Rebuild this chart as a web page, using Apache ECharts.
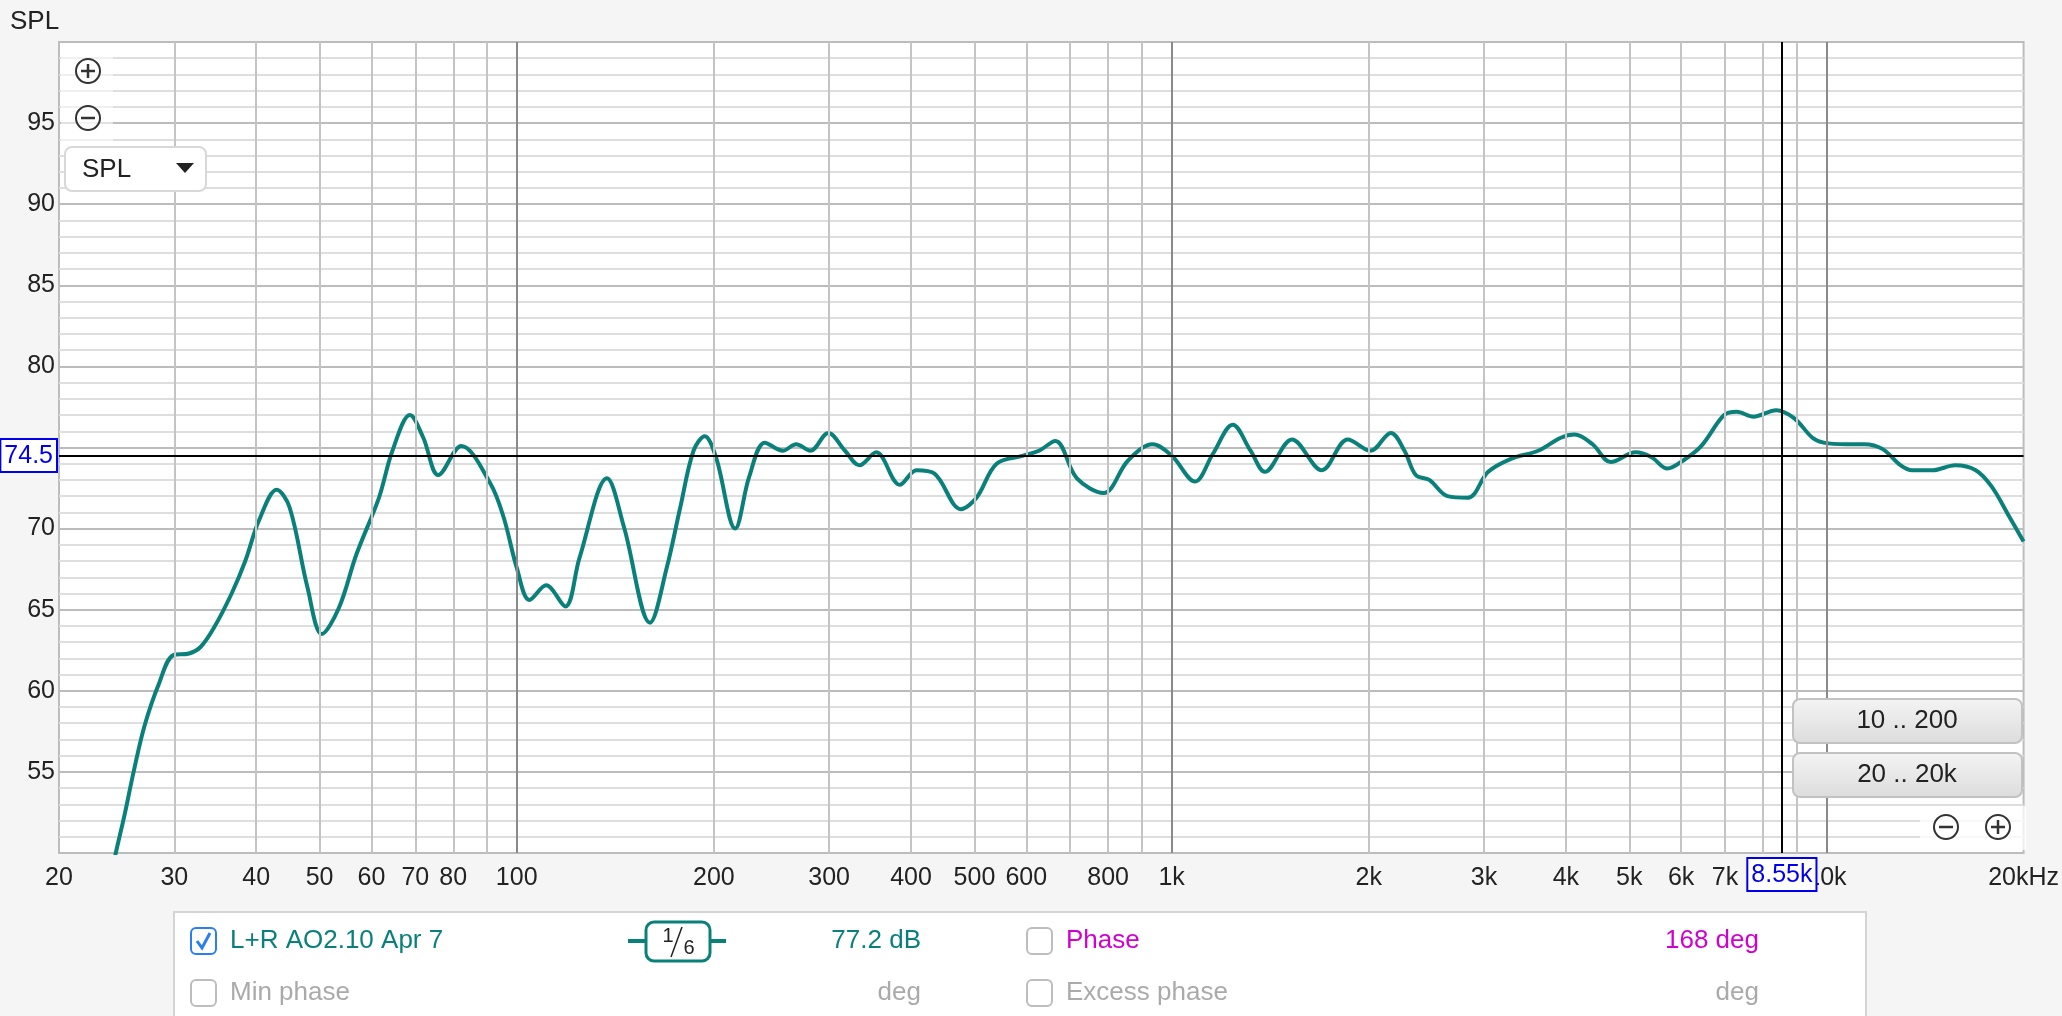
<!DOCTYPE html>
<html><head><meta charset="utf-8">
<script src="https://cdn.jsdelivr.net/npm/echarts@6/dist/echarts.min.js"></script>
<style>html,body{margin:0;padding:0;background:#f5f5f5;overflow:hidden}#c{width:2062px;height:1016px;}</style>
</head><body><div id="c"></div>
<script>
// ---- data ----
const freqHz = [20, 22, 23.5, 24.3, 25.2, 26.0, 27.0, 28.4, 29.9, 31.6, 32.9, 34.5, 36.7, 38.5, 40.4, 43.0, 45.0, 47.9, 50.4, 53.5, 56.9, 61.6, 64.6, 68.7, 72.0, 75.9, 82.3, 91.1, 95.5, 100, 104.6, 110.9, 118.6, 124.7, 137.4, 145.8, 159.8, 169.5, 177.7, 186.2, 193.7, 201.5, 215.6, 226.5, 239.3, 254.8, 267.1, 280.8, 299, 317.2, 333.6, 354, 384.6, 407.8, 434, 476.9, 503.6, 540.5, 593.8, 627.2, 664.5, 716.9, 787.3, 858.2, 935.6, 1000, 1086, 1156, 1240, 1320, 1388, 1527, 1696, 1858, 2012, 2162, 2268, 2360, 2475, 2638, 2835, 3044, 3298, 3628, 3930, 4124, 4394, 4684, 5112, 5406, 5716, 6044, 6442, 6978, 7294, 7738, 8382, 8932, 9520, 9904, 10726, 11430, 12186, 12986, 13514, 14522, 15728, 16904, 17870, 19042, 20000];
const splDb = [30, 40, 46.5, 49.6, 52.4, 55.0, 57.8, 60.4, 62.2, 62.3, 62.7, 63.9, 66.0, 68.0, 70.5, 72.4, 71.3, 66.4, 63.5, 65.1, 68.4, 71.9, 74.8, 77.0, 75.6, 73.3, 75.1, 72.8, 70.7, 67.6, 65.6, 66.5, 65.2, 68.2, 73.1, 70.1, 64.2, 67.6, 71.3, 74.8, 75.7, 74.4, 70.0, 73.2, 75.3, 74.8, 75.2, 74.8, 75.9, 74.8, 73.9, 74.7, 72.7, 73.6, 73.4, 71.2, 71.9, 74.0, 74.5, 74.8, 75.4, 73.1, 72.2, 74.2, 75.2, 74.5, 72.9, 74.6, 76.4, 74.8, 73.5, 75.5, 73.6, 75.5, 74.8, 75.9, 74.8, 73.3, 73.0, 72.0, 71.9, 73.5, 74.3, 74.8, 75.6, 75.8, 75.2, 74.1, 74.7, 74.4, 73.7, 74.2, 75.1, 77.0, 77.2, 76.9, 77.3, 76.8, 75.6, 75.3, 75.2, 75.2, 74.9, 73.9, 73.6, 73.6, 73.9, 73.6, 72.6, 70.7, 69.2];
const xTickLabels = [20, 30, 40, 50, 60, 70, 80, 100, 200, 300, 400, 500, 600, 800, 1000, 2000, 3000, 4000, 5000, 6000, 7000, 10000, 20000];
const yHiddenLabels = [50, 75, 100];
const lightGridFreqs = [30, 40, 50, 60, 70, 80, 90, 200, 300, 400, 500, 600, 700, 800, 900, 2000, 3000, 4000, 5000, 6000, 7000, 8000, 9000];
const decadeGridFreqs = [100, 1000, 10000];
const referenceLevel = 74.5;
const cursorFreq = 8550;
const cursorLabel = '8.55k';
const seriesName = 'L+R AO2.10 Apr 7';
const smoothingLabel = ['1', '6'];
const cursorSplText = '77.2 dB';
const phaseText = '168 deg';

const FONT = "'Liberation Sans', Arial, sans-serif";
const TEAL = '#0a807b';
const chart = echarts.init(document.getElementById('c'), null, {renderer: 'canvas'});

const curve = freqHz.map((f, i) => [f, splDb[i]]);
const gridLines = lightGridFreqs.map(f => ({xAxis: f, lineStyle: {color: '#c4c4c4', width: 2, type: 'solid'}}))
  .concat(decadeGridFreqs.map(f => ({xAxis: f, lineStyle: {color: '#8a8a8a', width: 2, type: 'solid'}})));

function fmtX(v) {
  if (Math.abs(v - 20000) < 1) return '20kHz';
  if (v >= 1000) return (Math.round(v / 100) / 10) + 'k';
  return String(Math.round(v));
}
function fmtY(v) {
  return yHiddenLabels.indexOf(Math.round(v)) >= 0 ? '' : String(v);
}

function txt(x, y, s, fill, align, size, z) {
  return {type: 'text', x: x, y: y, z: z || 100, silent: true,
    style: {text: s, fill: fill, font: (size || 26) + 'px ' + FONT, align: align || 'left', verticalAlign: 'middle'}};
}
function circleBtn(cx, cy, plus) {
  const els = [
    {type: 'circle', z: 100, silent: true, shape: {cx: cx, cy: cy, r: 12}, style: {fill: 'rgba(255,255,255,0.6)', stroke: '#333', lineWidth: 2}},
    {type: 'line', z: 101, silent: true, shape: {x1: cx - 7, y1: cy, x2: cx + 7, y2: cy}, style: {stroke: '#333', lineWidth: 2.5}}
  ];
  if (plus) els.push({type: 'line', z: 101, silent: true, shape: {x1: cx, y1: cy - 7, x2: cx, y2: cy + 7}, style: {stroke: '#333', lineWidth: 2.5}});
  return els;
}
function checkbox(x, y, checked) {
  const els = [{type: 'rect', z: 100, silent: true, shape: {x: x, y: y, width: 25, height: 26, r: 5},
    style: {fill: '#fff', stroke: checked ? '#2a7ef5' : '#bdbdbd', lineWidth: 2}}];
  if (checked) els.push({type: 'polyline', z: 101, silent: true, shape: {points: [[x + 6, y + 13], [x + 11, y + 20], [x + 19, y + 5]]},
    style: {stroke: '#2a7ef5', lineWidth: 3, fill: 'none'}});
  return els;
}
function button(y, label) {
  return [
    {type: 'rect', z: 100, silent: true, shape: {x: 1793, y: y, width: 229, height: 44, r: 7},
      style: {fill: new echarts.graphic.LinearGradient(0, 0, 0, 1, [{offset: 0, color: '#f4f4f4'}, {offset: 1, color: '#dcdcdc'}]), stroke: '#c2c2c2', lineWidth: 2}},
    txt(1907, y + 22, label, '#222', 'center', 26, 101)
  ];
}

const graphic = [].concat(
  [txt(10, 22, 'SPL', '#222', 'left', 26)],
  [{type: 'rect', z: 99, silent: true, shape: {x: 61, y: 52, width: 52, height: 90}, style: {fill: 'rgba(255,255,255,0.55)'}}],
  circleBtn(88, 71, true), circleBtn(88, 118, false),
  [{type: 'rect', z: 100, silent: true, shape: {x: 65, y: 147, width: 141, height: 44, r: 7}, style: {fill: '#fff', stroke: '#d8d8d8', lineWidth: 2}},
   txt(82, 170, 'SPL', '#222', 'left', 26, 101),
   {type: 'polygon', z: 101, silent: true, shape: {points: [[176, 163], [194, 163], [185, 173]]}, style: {fill: '#222'}}],
  button(699, '10 .. 200'), button(753, '20 .. 20k'),
  [{type: 'rect', z: 99, silent: true, shape: {x: 1920, y: 806, width: 106, height: 44}, style: {fill: 'rgba(255,255,255,0.75)'}}],
  circleBtn(1946, 827, false), circleBtn(1998, 827, true),
  // legend / info panel
  [{type: 'rect', z: 98, silent: true, shape: {x: 174, y: 912, width: 1692, height: 120}, style: {fill: '#fff', stroke: '#d4d4d4', lineWidth: 2}}],
  checkbox(191, 928, true),
  [txt(230, 941, seriesName, TEAL, 'left'),
   {type: 'line', z: 100, silent: true, shape: {x1: 628, y1: 941, x2: 726, y2: 941}, style: {stroke: TEAL, lineWidth: 4}},
   {type: 'rect', z: 101, silent: true, shape: {x: 646, y: 922, width: 64, height: 39, r: 8}, style: {fill: '#fff', stroke: TEAL, lineWidth: 3}},
   txt(668, 936, smoothingLabel[0], '#222', 'center', 20, 103),
   txt(689, 948, smoothingLabel[1], '#222', 'center', 20, 103),
   {type: 'line', z: 103, silent: true, shape: {x1: 682, y1: 927, x2: 671, y2: 957}, style: {stroke: '#222', lineWidth: 1.5}},
   txt(921, 941, cursorSplText, TEAL, 'right')],
  checkbox(1027, 928, false),
  [txt(1066, 941, 'Phase', '#d000d0', 'left'), txt(1759, 941, phaseText, '#d000d0', 'right')],
  checkbox(191, 980, false),
  [txt(230, 993, 'Min phase', '#aaaaaa', 'left'), txt(921, 993, 'deg', '#aaaaaa', 'right')],
  checkbox(1027, 980, false),
  [txt(1066, 993, 'Excess phase', '#aaaaaa', 'left'), txt(1759, 993, 'deg', '#aaaaaa', 'right')]
);

const option = {
  animation: false,
  backgroundColor: '#f5f5f5',
  textStyle: {fontFamily: FONT},
  grid: {left: 59, right: 35, top: 42, bottom: 163, show: true, backgroundColor: '#fff', borderColor: '#bdbdbd', borderWidth: 2, containLabel: false},
  xAxis: {
    type: 'log', logBase: 10, min: 20, max: 20000,
    axisLine: {show: false}, axisTick: {show: false}, splitLine: {show: false},
    axisLabel: {show: true, customValues: xTickLabels, formatter: fmtX, color: '#222', fontSize: 25, fontFamily: FONT, margin: 13}
  },
  yAxis: {
    type: 'value', min: 50, max: 100, interval: 5,
    axisLine: {show: false}, axisTick: {show: false},
    axisLabel: {color: '#222', fontSize: 25, fontFamily: FONT, margin: 4, formatter: fmtY},
    splitLine: {show: true, lineStyle: {color: '#bcbcbc', width: 2}},
    minorTick: {show: false, splitNumber: 5},
    minorSplitLine: {show: true, lineStyle: {color: '#dedede', width: 2}}
  },
  series: [
    {type: 'line', name: 'grid', data: [], z: 1, silent: true,
      markLine: {silent: true, symbol: ['none', 'none'], label: {show: false}, animation: false, data: gridLines}},
    {type: 'line', name: seriesName, data: curve, z: 3, smooth: 0.35, showSymbol: false, clip: true, silent: true,
      lineStyle: {color: TEAL, width: 4}, itemStyle: {color: TEAL}},
    {type: 'line', name: 'cursor', data: [], z: 5, silent: true,
      markLine: {silent: true, symbol: ['none', 'none'], animation: false,
        data: [
          {yAxis: referenceLevel, lineStyle: {color: '#000', width: 2, type: 'solid'},
            label: {show: true, position: 'start', distance: 3, formatter: String(referenceLevel), color: '#0000ee', fontSize: 25, fontFamily: FONT,
              backgroundColor: '#fff', borderColor: '#0000ee', borderWidth: 2, padding: [4, 3, 2, 3]}},
          {xAxis: cursorFreq, lineStyle: {color: '#000', width: 2, type: 'solid'},
            label: {show: true, position: 'start', distance: 6, formatter: cursorLabel, color: '#0000ee', fontSize: 25, fontFamily: FONT,
              backgroundColor: '#fff', borderColor: '#0000ee', borderWidth: 2, padding: [4, 3, 2, 3]}}
        ]}}
  ],
  graphic: graphic
};
chart.setOption(option);
</script>
</body></html>
